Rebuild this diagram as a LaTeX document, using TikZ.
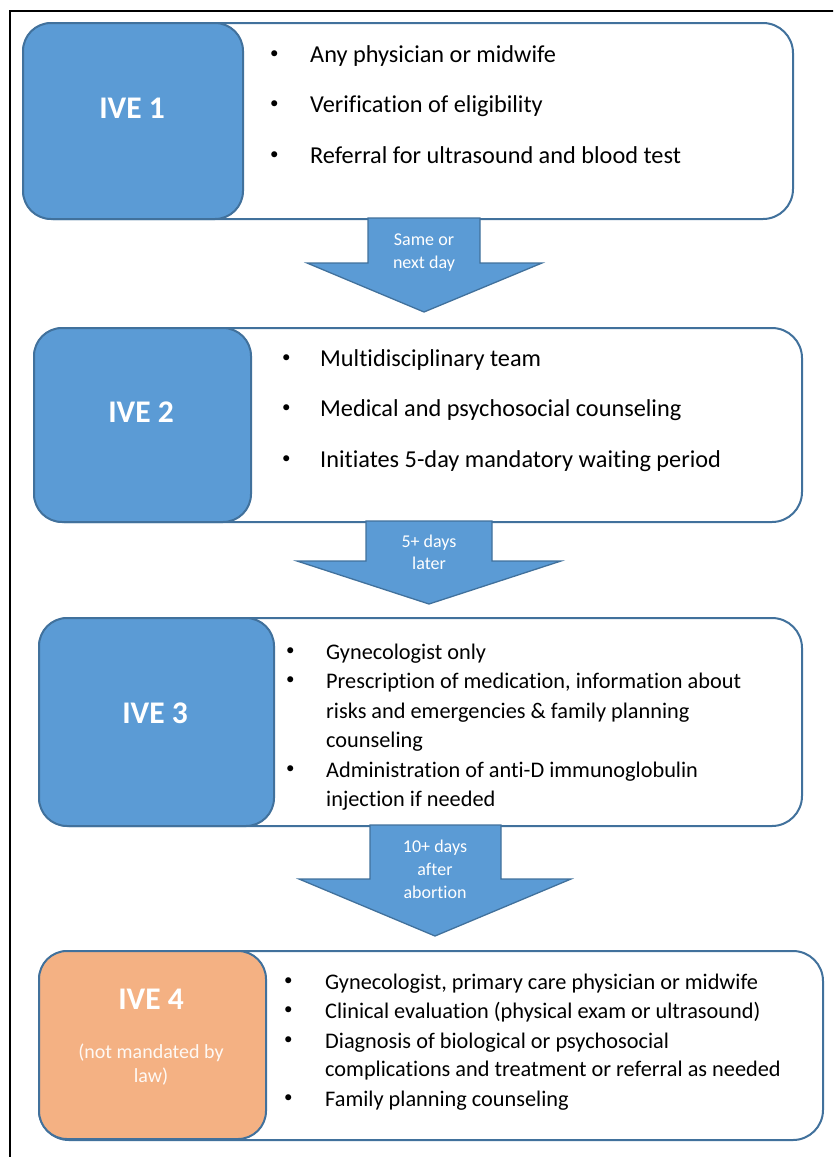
\documentclass[tikz,border=0pt]{standalone}
\usepackage{fontspec}
\setmainfont{Carlito}[Ligatures=NoCommon]
\definecolor{fillblue}{HTML}{5B9BD5}
\definecolor{edgeblue}{HTML}{41719C}
\definecolor{fillorange}{HTML}{F4B183}
\newcommand{\bulletmark}[1]{\makebox[#1][l]{\raisebox{0.15em}{\fontsize{17}{17}\selectfont •}}}
\begin{document}
\begin{tikzpicture}[x=1pt,y=-1pt,
  whitebox/.style={draw=edgeblue, line width=2pt, fill=white, rounded corners=30pt, anchor=north west, inner sep=0pt},
  ivebox/.style={draw=edgeblue, line width=2pt, fill=fillblue, rounded corners=28pt, anchor=north west, inner sep=0pt},
  orangebox/.style={draw=edgeblue, line width=2pt, fill=fillorange, rounded corners=28pt, anchor=north west, inner sep=0pt},
  ivelabel/.style={text=white, font=\fontsize{31.5}{36}\selectfont\bfseries, anchor=base, inner sep=0pt},
  sublabel/.style={text=white!92!fillorange, font=\fontsize{20}{24}\selectfont, anchor=base, inner sep=0pt},
  item/.style={text=black, font=\fontsize{24.3}{28}\selectfont, anchor=base west, inner sep=0pt},
  itemsmall/.style={text=black, font=\fontsize{22.3}{26}\selectfont, anchor=base west, inner sep=0pt},
  arrowbody/.style={draw=edgeblue, line width=1.3pt, fill=fillblue, line join=miter},
  arrowtext/.style={text=white, font=\fontsize{18}{21}\selectfont, anchor=base, inner sep=0pt}
]
\useasboundingbox (0,0) rectangle (833,1157);
\begin{scope}
\clip (0,0) rectangle (833,1157);
\draw[black, line width=2pt] (10,11) rectangle (850,1175);
\end{scope}

% ---------- Box 1 ----------
\node[whitebox, minimum width=770pt, minimum height=196pt] (w1) at (22,22) {};
\node[ivebox, minimum width=220pt, minimum height=196pt] (b1) at (22,22) {};
\node[ivelabel] (l1) at (132,118) {IVE 1};
\node[item] (i1a) at (270,62) {\bulletmark{40pt}Any physician or midwife};
\node[item] (i1b) at (270,112) {\bulletmark{40pt}Verification of eligibility};
\node[item] (i1c) at (270,163) {\bulletmark{40pt}Referral for ultrasound and blood test};

% ---------- Arrow 1 ----------
\draw[arrowbody] (368,218) -- (480,218) -- (480,263) -- (542,263) -- (424,312) -- (307,263) -- (368,263) -- cycle;
\node[arrowtext] (a1a) at (424,245) {Same or};
\node[arrowtext] (a1b) at (424,268) {next day};

% ---------- Box 2 ----------
\node[whitebox, minimum width=768pt, minimum height=194pt] (w2) at (33,327) {};
\node[ivebox, minimum width=217pt, minimum height=194pt] (b2) at (33,327) {};
\node[ivelabel] (l2) at (141,422) {IVE 2};
\node[item] (i2a) at (282,366) {\bulletmark{38pt}Multidisciplinary team};
\node[item] (i2b) at (282,416) {\bulletmark{38pt}Medical and psychosocial counseling};
\node[item] (i2c) at (282,467) {\bulletmark{38pt}Initiates 5-day mandatory waiting period};

% ---------- Arrow 2 ----------
\draw[arrowbody] (366,521) -- (492,521) -- (492,561) -- (561,561) -- (429,604) -- (297,561) -- (366,561) -- cycle;
\node[arrowtext] (a2a) at (429,547) {5+ days};
\node[arrowtext] (a2b) at (429,569) {later};

% ---------- Box 3 ----------
\node[whitebox, minimum width=763pt, minimum height=208pt] (w3) at (38,617) {};
\node[ivebox, minimum width=235pt, minimum height=208pt] (b3) at (38,617) {};
\node[ivelabel] (l3) at (155,723) {IVE 3};
\node[itemsmall] (i3a) at (286,659) {\bulletmark{40pt}Gynecologist only};
\node[itemsmall] (i3b) at (286,688) {\bulletmark{40pt}Prescription of medication, information about};
\node[itemsmall] (i3c) at (326,718) {risks and emergencies \& family planning};
\node[itemsmall] (i3d) at (326,747) {counseling};
\node[itemsmall] (i3e) at (286,777) {\bulletmark{40pt}Administration of anti-D immunoglobulin};
\node[itemsmall] (i3f) at (326,806) {injection if needed};

% ---------- Arrow 3 ----------
\draw[arrowbody] (370,825) -- (501,825) -- (501,879) -- (571,879) -- (435,936) -- (299,879) -- (370,879) -- cycle;
\node[arrowtext] (a3a) at (435,852) {10+ days};
\node[arrowtext] (a3b) at (435,875) {after};
\node[arrowtext] (a3c) at (435,898) {abortion};

% ---------- Box 4 ----------
\node[whitebox, minimum width=784pt, minimum height=189pt] (w4) at (38,950) {};
\node[orangebox, minimum width=227pt, minimum height=188pt] (b4) at (38,950) {};
\node[ivelabel] (l4) at (151,1009) {IVE 4};
\node[sublabel] (s4a) at (151,1058) {(not mandated by};
\node[sublabel] (s4b) at (151,1082) {law)};
\node[itemsmall] (i4a) at (284,989) {\bulletmark{41pt}Gynecologist, primary care physician or midwife};
\node[itemsmall] (i4b) at (284,1018) {\bulletmark{41pt}Clinical evaluation (physical exam or ultrasound)};
\node[itemsmall] (i4c) at (284,1048) {\bulletmark{41pt}Diagnosis of biological or psychosocial};
\node[itemsmall] (i4d) at (325,1076) {complications and treatment or referral as needed};
\node[itemsmall] (i4e) at (284,1106) {\bulletmark{41pt}Family planning counseling};
\end{tikzpicture}
\end{document}
